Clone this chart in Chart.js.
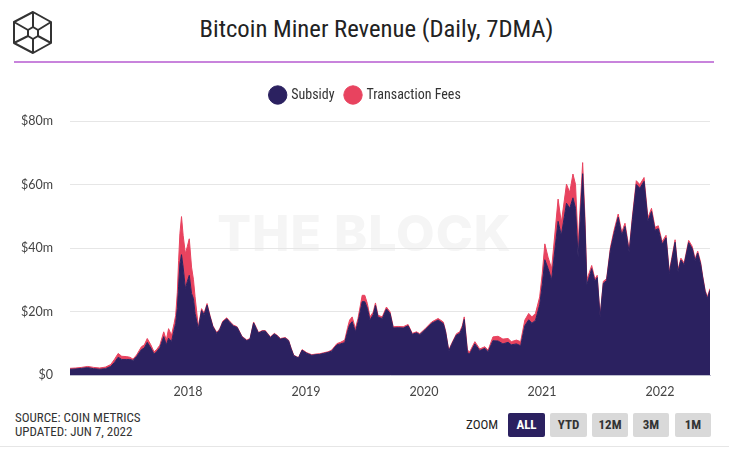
<!DOCTYPE html>
<html><head><meta charset="utf-8">
<script src="https://cdn.jsdelivr.net/npm/chart.js@4"></script>
<style>
html,body{margin:0;padding:0;background:#fff;}
body{width:729px;height:450px;position:relative;overflow:hidden;font-family:'Liberation Sans Narrow','Roboto Condensed','Roboto',sans-serif;color:#222;}
#logo{position:absolute;left:10px;top:10px;}
#title{position:absolute;left:0;width:753px;top:14px;text-align:center;font-size:24.7px;color:#222;white-space:nowrap;}
#hr{position:absolute;left:14px;width:700px;top:61px;height:2px;background:#c883dc;}
#wm{position:absolute;left:0;width:729px;top:203px;text-align:center;font-family:'Inter','Liberation Sans',sans-serif;font-weight:800;font-size:50px;color:#f5f5f5;letter-spacing:1px;}
#chartbox{position:absolute;left:0;top:76px;width:729px;height:330px;}
#src{position:absolute;left:15px;top:411px;font-size:13px;line-height:14px;color:#333;}
#zoomlbl{position:absolute;left:466px;top:417px;font-size:13px;color:#222;}
.btn{position:absolute;top:413px;height:24px;line-height:24px;text-align:center;font-size:13px;font-weight:bold;color:#333;background:#d9d9d9;border-radius:2px;}
#bottom{position:absolute;left:0;width:729px;top:446px;height:1px;background:#e6e6e6;}
</style></head>
<body>
<svg id="logo" width="46" height="46" viewBox="0 0 46 46">
  <g fill="none" stroke="#333" stroke-width="2" stroke-linejoin="round">
    <path d="M23 2 L41 12 L41 33 L23 43 L4 33 L4 12 Z"/>
    <path d="M4 12 L18 20 L18 26 L4 33"/>
    <path d="M41 12 L28 20 L28 26 L41 33"/>
    <path d="M18 20 L23 17 L28 20 M18 26 L23 29 L28 26"/>
    <path d="M23 2 L23 17 M23 29 L23 43"/>
  </g>
</svg>
<div id="title">Bitcoin Miner Revenue (Daily, 7DMA)</div>
<div id="hr"></div>
<div id="wm">THE BLOCK</div>
<div id="chartbox"><canvas id="c" width="729" height="330"></canvas></div>
<div id="src">SOURCE: COIN METRICS<br>UPDATED: JUN 7, 2022</div>
<div id="zoomlbl">ZOOM</div>
<div class="btn" style="left:508px;width:37px;background:#2b2160;color:#fff;">ALL</div>
<div class="btn" style="left:550px;width:37px;">YTD</div>
<div class="btn" style="left:592px;width:36px;">12M</div>
<div class="btn" style="left:633px;width:36px;">3M</div>
<div class="btn" style="left:675px;width:36px;">1M</div>
<div id="bottom"></div>
<script>
const dates = [
"2017-01-01","2017-01-19","2017-02-06","2017-02-25","2017-03-15","2017-04-03","2017-04-21","2017-05-07","2017-05-19","2017-05-30",
"2017-06-10","2017-06-24","2017-07-05","2017-07-15","2017-07-26","2017-08-10","2017-08-19","2017-08-28","2017-09-08","2017-09-18",
"2017-09-26","2017-10-06","2017-10-18","2017-10-26","2017-11-02","2017-11-11","2017-11-19","2017-11-24","2017-11-29","2017-12-03",
"2017-12-07","2017-12-12","2017-12-17","2017-12-24","2017-12-30","2018-01-05","2018-01-12","2018-01-18","2018-01-23","2018-02-02",
"2018-02-12","2018-02-20","2018-03-01","2018-03-10","2018-03-19","2018-03-31","2018-04-09","2018-04-19","2018-05-01","2018-05-11",
"2018-05-22","2018-06-02","2018-06-17","2018-07-02","2018-07-12","2018-07-23","2018-07-31","2018-08-07","2018-08-19","2018-08-28",
"2018-09-13","2018-09-25","2018-10-04","2018-10-14","2018-10-29","2018-11-08","2018-11-16","2018-11-24","2018-12-02","2018-12-09",
"2018-12-20","2019-01-04","2019-01-19","2019-02-01","2019-02-13","2019-02-25","2019-03-10","2019-03-21","2019-03-26","2019-04-07",
"2019-04-18","2019-05-01","2019-05-10","2019-05-16","2019-05-24","2019-06-03","2019-06-11","2019-06-24","2019-07-02","2019-07-10",
"2019-07-18","2019-07-28","2019-08-04","2019-08-12","2019-08-25","2019-09-07","2019-09-18","2019-09-28","2019-10-13","2019-10-29",
"2019-11-13","2019-11-26","2019-12-09","2019-12-19","2020-01-05","2020-01-25","2020-02-14","2020-03-01","2020-03-08","2020-03-18",
"2020-03-27","2020-04-11","2020-04-21","2020-04-29","2020-05-05","2020-05-15","2020-05-22","2020-06-07","2020-06-22","2020-07-08",
"2020-07-18","2020-08-02","2020-08-18","2020-09-02","2020-09-18","2020-09-28","2020-10-14","2020-10-27","2020-11-09","2020-11-21",
"2020-12-01","2020-12-12","2020-12-25","2021-01-02","2021-01-10","2021-01-20","2021-01-31","2021-02-10","2021-02-20","2021-03-02",
"2021-03-18","2021-03-28","2021-04-07","2021-04-15","2021-04-23","2021-05-07","2021-05-14","2021-05-20","2021-06-04","2021-06-14",
"2021-06-21","2021-06-30","2021-07-10","2021-07-20","2021-08-01","2021-08-12","2021-08-25","2021-09-05","2021-09-15","2021-09-28",
"2021-10-08","2021-10-20","2021-10-31","2021-11-13","2021-11-25","2021-12-06","2021-12-17","2021-12-27","2022-01-08","2022-01-20",
"2022-01-30","2022-02-07","2022-02-17","2022-02-26","2022-03-07","2022-03-17","2022-03-31","2022-04-11","2022-04-20","2022-04-28",
"2022-05-07","2022-05-13","2022-05-21","2022-05-28","2022-06-05"];

const subsidy = [
1.8,1.9,2.1,2.3,2.0,1.8,2.0,2.7,4.0,5.6,
4.9,4.9,4.9,4.6,5.8,8.0,8.5,10.3,8.5,6.6,
7.3,8.6,12.1,9.5,11.6,10.5,14.2,16.3,21.0,28.0,
35.0,37.9,34.0,27.2,29.5,31.4,25.7,24.0,19.4,14.6,
20.3,19.0,22.0,18.4,15.2,13.1,14.2,16.7,17.7,16.5,
15.4,15.0,12.0,10.8,11.3,16.4,14.7,13.2,13.8,13.8,
11.8,12.9,12.3,11.3,11.6,10.8,8.3,6.1,5.7,5.4,
7.8,6.8,6.2,6.4,6.5,6.8,7.1,7.5,8.1,9.5,
9.8,10.2,13.8,15.8,16.8,13.6,16.6,23.1,23.1,21.0,
17.3,19.0,21.9,18.2,17.8,20.8,19.4,14.8,14.9,14.8,
15.5,12.8,13.3,12.7,14.3,16.3,17.3,16.2,13.6,7.5,
9.6,12.6,13.1,14.9,17.5,7.0,6.7,9.8,7.7,8.4,
7.3,10.8,10.7,9.8,10.3,9.5,9.8,9.2,15.5,17.4,
16.3,17.2,22.1,28.4,36.3,33.6,30.0,39.4,48.4,44.0,
54.1,52.5,55.8,52.5,37.0,63.4,47.5,28.5,33.5,29.5,
30.7,18.2,28.9,29.7,39.4,44.5,49.7,44.1,46.8,38.7,
49.0,60.0,58.8,61.0,48.5,51.5,45.6,46.1,41.2,43.2,
31.9,36.3,41.8,32.6,36.2,34.7,41.7,39.8,36.0,38.4,
34.9,30.9,26.2,24.1,26.7];

const fees = [
0.3,0.3,0.3,0.4,0.4,0.4,0.5,0.6,1.0,1.2,
1.0,0.9,0.7,0.4,0.5,0.9,1.0,1.2,1.0,0.7,
0.7,0.8,1.5,1.5,3.0,2.0,2.0,2.5,5.0,8.0,
9.5,12.0,10.0,11.0,11.0,11.5,8.3,6.0,5.2,0.6,
0.6,0.5,0.5,0.4,0.3,0.3,0.3,0.3,0.3,0.3,
0.3,0.2,0.2,0.2,0.2,0.3,0.3,0.2,0.2,0.2,
0.2,0.2,0.2,0.2,0.2,0.2,0.2,0.2,0.1,0.1,
0.2,0.2,0.2,0.2,0.2,0.2,0.2,0.3,0.3,0.4,
0.5,0.8,1.2,1.5,1.5,1.0,1.2,2.0,2.0,1.5,
1.0,0.8,0.8,0.6,0.5,0.6,0.5,0.4,0.4,0.4,
0.4,0.3,0.3,0.3,0.3,0.4,0.5,0.5,0.4,0.3,
0.3,0.4,0.5,0.6,0.8,0.8,0.6,0.7,0.5,0.5,
0.5,1.2,1.5,1.5,1.2,1.0,1.2,1.3,1.8,2.0,
2.0,2.2,2.5,3.5,5.0,3.5,3.5,5.0,7.0,4.0,
6.0,5.0,7.5,7.5,4.0,3.5,2.5,1.5,1.0,0.7,
0.7,0.4,0.6,0.6,0.8,1.0,1.0,0.9,1.0,0.8,
1.0,1.2,1.2,1.2,1.0,1.0,0.9,0.9,0.8,0.8,
0.7,0.7,0.8,0.6,0.6,0.6,0.7,0.7,0.6,0.6,
0.6,0.5,0.5,0.5,0.5];

const seriesNames = ["Subsidy", "Transaction Fees"];
const seriesColors = ["#2b2160", "#e8435f"];
const yTickValues = [0, 20, 40, 60, 80];
const yTickLabels = ["$0", "$20m", "$40m", "$60m", "$80m"];
const xTickYears = [2018, 2019, 2020, 2021, 2022];

function toYear(s){
  const p = s.split('-').map(Number);
  const a = Date.UTC(p[0],0,1), b = Date.UTC(p[0]+1,0,1);
  return p[0] + (Date.UTC(p[0],p[1]-1,p[2]) - a)/(b - a);
}
const xs = dates.map(toYear);

Chart.defaults.font.family = "'Liberation Sans Narrow','Roboto Condensed','Roboto',sans-serif";

const legendGap = {
  id: 'legendGap',
  beforeInit(chart) {
    const fit = chart.legend.fit;
    chart.legend.fit = function() { fit.bind(chart.legend)(); this.height += 9; };
  },
  afterLayout(chart) {
    chart.legend.left += 11;
    chart.legend.right += 11;
  }
};

new Chart(document.getElementById('c'), {
  type: 'line',
  plugins: [legendGap],
  data: {
    datasets: [
      { label: seriesNames[0], data: xs.map((x,i)=>({x:x, y:subsidy[i]})),
        borderColor: seriesColors[0], backgroundColor: seriesColors[0], borderWidth: 1,
        fill: 'origin', pointRadius: 0, tension: 0 },
      { label: seriesNames[1], data: xs.map((x,i)=>({x:x, y:fees[i]})),
        borderColor: seriesColors[1], backgroundColor: seriesColors[1], borderWidth: 1,
        fill: '-1', pointRadius: 0, tension: 0 }
    ]
  },
  options: {
    responsive: false, animation: false, events: [],
    layout: { padding: { left: 0, right: 19, top: 0, bottom: 0 } },
    plugins: {
      legend: { display: true, position: 'top',
        labels: { usePointStyle: true, pointStyle: 'circle', boxWidth: 13, boxHeight: 13,
          padding: 12, color: '#333', font: { size: 14 } } },
      tooltip: { enabled: false }
    },
    scales: {
      x: { type: 'linear', min: xs[0], max: xs[xs.length-1],
        grid: { display: false, drawTicks: false },
        border: { display: true, color: '#bdbdcf', width: 1 },
        afterBuildTicks: (s) => { s.ticks = xTickYears.map(v => ({ value: v })); },
        afterFit: (s) => { s.height = 31; },
        ticks: { padding: 9, color: '#444', autoSkip: false, maxRotation: 0,
          font: { family: "'Lato','Roboto',sans-serif", size: 12.5 },
          callback: (v) => String(v) } },
      y: { stacked: true, min: 0, max: 80,
        grid: { color: '#e6e6e6', drawTicks: false },
        border: { display: false },
        afterBuildTicks: (s) => { s.ticks = yTickValues.map(v => ({ value: v })); },
        afterFit: (s) => { s.width = 70; },
        ticks: { padding: 17, color: '#444',
          font: { family: "'Lato','Roboto',sans-serif", size: 12.5 },
          callback: (v) => yTickLabels[yTickValues.indexOf(v)] } }
    }
  }
});
</script>
</body></html>
